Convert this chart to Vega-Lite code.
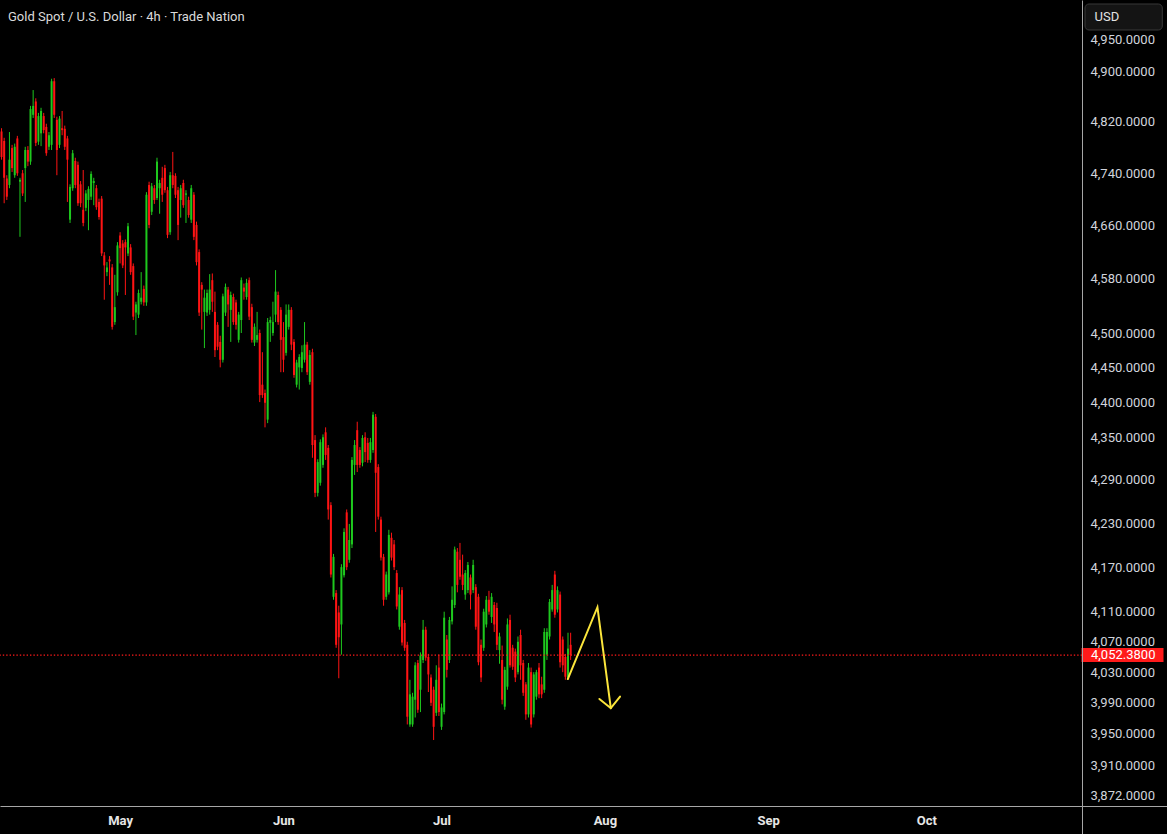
{
"$schema":"https://vega.github.io/schema/vega-lite/v6.json",
"width":1082,"height":806,
"autosize":{"type":"none"},
"padding":{"left":0,"top":0,"right":85,"bottom":28},
"background":"#000000",
"config":{"view":{"stroke":null}},
"title":{"text":"Gold Spot / U.S. Dollar · 4h · Trade Nation","anchor":"start","frame":"group","orient":"top","offset":-16,"baseline":"middle","dx":8,"dy":14,"font":"Roboto","fontSize":13,"fontWeight":"normal","color":"#dadada"},
"datasets":{
"candles":[
{"t":"2026-04-08T12:00","o":4805,"h":4810,"l":4761,"c":4765},
{"t":"2026-04-09T00:00","o":4790,"h":4795,"l":4694,"c":4733},
{"t":"2026-04-09T12:00","o":4732,"h":4737,"l":4699,"c":4704},
{"t":"2026-04-10T00:00","o":4722,"h":4804,"l":4717,"c":4761},
{"t":"2026-04-10T12:00","o":4779,"h":4784,"l":4742,"c":4748},
{"t":"2026-04-11T00:00","o":4737,"h":4786,"l":4733,"c":4781},
{"t":"2026-04-11T12:00","o":4794,"h":4798,"l":4736,"c":4740},
{"t":"2026-04-12T00:00","o":4727,"h":4733,"l":4643,"c":4730},
{"t":"2026-04-12T12:00","o":4740,"h":4745,"l":4705,"c":4709},
{"t":"2026-04-13T00:00","o":4748,"h":4781,"l":4696,"c":4776},
{"t":"2026-04-13T12:00","o":4776,"h":4782,"l":4751,"c":4758},
{"t":"2026-04-14T00:00","o":4758,"h":4845,"l":4753,"c":4840},
{"t":"2026-04-14T12:00","o":4831,"h":4870,"l":4826,"c":4845},
{"t":"2026-04-15T00:00","o":4852,"h":4857,"l":4782,"c":4787},
{"t":"2026-04-15T12:00","o":4789,"h":4834,"l":4784,"c":4829},
{"t":"2026-04-16T00:00","o":4802,"h":4842,"l":4782,"c":4837},
{"t":"2026-04-16T12:00","o":4829,"h":4834,"l":4802,"c":4807},
{"t":"2026-04-17T00:00","o":4812,"h":4817,"l":4767,"c":4771},
{"t":"2026-04-17T12:00","o":4781,"h":4804,"l":4776,"c":4799},
{"t":"2026-04-18T00:00","o":4784,"h":4888,"l":4776,"c":4884},
{"t":"2026-04-18T12:00","o":4884,"h":4889,"l":4826,"c":4831},
{"t":"2026-04-19T00:00","o":4823,"h":4828,"l":4737,"c":4776},
{"t":"2026-04-19T12:00","o":4784,"h":4829,"l":4779,"c":4825},
{"t":"2026-04-20T00:00","o":4810,"h":4837,"l":4799,"c":4807},
{"t":"2026-04-20T12:00","o":4809,"h":4814,"l":4776,"c":4781},
{"t":"2026-04-21T00:00","o":4794,"h":4798,"l":4696,"c":4761},
{"t":"2026-04-21T12:00","o":4669,"h":4723,"l":4664,"c":4719},
{"t":"2026-04-22T00:00","o":4717,"h":4776,"l":4713,"c":4771},
{"t":"2026-04-22T12:00","o":4759,"h":4764,"l":4717,"c":4722},
{"t":"2026-04-23T00:00","o":4753,"h":4758,"l":4690,"c":4694},
{"t":"2026-04-23T12:00","o":4723,"h":4728,"l":4688,"c":4694},
{"t":"2026-04-24T00:00","o":4684,"h":4745,"l":4659,"c":4664},
{"t":"2026-04-24T12:00","o":4687,"h":4714,"l":4682,"c":4709},
{"t":"2026-04-25T00:00","o":4699,"h":4720,"l":4653,"c":4716},
{"t":"2026-04-25T12:00","o":4704,"h":4743,"l":4699,"c":4739},
{"t":"2026-04-26T00:00","o":4725,"h":4733,"l":4691,"c":4728},
{"t":"2026-04-26T12:00","o":4717,"h":4722,"l":4684,"c":4688},
{"t":"2026-04-27T00:00","o":4696,"h":4701,"l":4669,"c":4673},
{"t":"2026-04-27T12:00","o":4701,"h":4705,"l":4614,"c":4618},
{"t":"2026-04-28T00:00","o":4615,"h":4620,"l":4549,"c":4600},
{"t":"2026-04-28T12:00","o":4590,"h":4605,"l":4584,"c":4597},
{"t":"2026-04-29T00:00","o":4609,"h":4614,"l":4571,"c":4606},
{"t":"2026-04-29T12:00","o":4597,"h":4602,"l":4505,"c":4509},
{"t":"2026-04-30T00:00","o":4516,"h":4586,"l":4512,"c":4538},
{"t":"2026-04-30T12:00","o":4560,"h":4635,"l":4555,"c":4630},
{"t":"2026-05-01T00:00","o":4645,"h":4650,"l":4603,"c":4626},
{"t":"2026-05-01T12:00","o":4633,"h":4638,"l":4596,"c":4600},
{"t":"2026-05-02T00:00","o":4635,"h":4639,"l":4556,"c":4627},
{"t":"2026-05-02T12:00","o":4618,"h":4664,"l":4614,"c":4659},
{"t":"2026-05-03T00:00","o":4627,"h":4632,"l":4586,"c":4590},
{"t":"2026-05-03T12:00","o":4599,"h":4603,"l":4519,"c":4524},
{"t":"2026-05-04T00:00","o":4530,"h":4546,"l":4497,"c":4542},
{"t":"2026-05-04T12:00","o":4527,"h":4564,"l":4522,"c":4559},
{"t":"2026-05-05T00:00","o":4546,"h":4590,"l":4542,"c":4552},
{"t":"2026-05-05T12:00","o":4565,"h":4570,"l":4540,"c":4545},
{"t":"2026-05-06T00:00","o":4545,"h":4711,"l":4540,"c":4707},
{"t":"2026-05-06T12:00","o":4722,"h":4727,"l":4656,"c":4661},
{"t":"2026-05-07T00:00","o":4681,"h":4725,"l":4676,"c":4720},
{"t":"2026-05-07T12:00","o":4717,"h":4722,"l":4693,"c":4699},
{"t":"2026-05-08T00:00","o":4702,"h":4764,"l":4699,"c":4758},
{"t":"2026-05-08T12:00","o":4717,"h":4730,"l":4678,"c":4725},
{"t":"2026-05-09T00:00","o":4733,"h":4750,"l":4696,"c":4707},
{"t":"2026-05-09T12:00","o":4748,"h":4753,"l":4710,"c":4714},
{"t":"2026-05-10T00:00","o":4714,"h":4719,"l":4641,"c":4646},
{"t":"2026-05-10T12:00","o":4650,"h":4742,"l":4646,"c":4737},
{"t":"2026-05-11T00:00","o":4737,"h":4773,"l":4717,"c":4722},
{"t":"2026-05-11T12:00","o":4736,"h":4740,"l":4702,"c":4707},
{"t":"2026-05-12T00:00","o":4714,"h":4719,"l":4638,"c":4661},
{"t":"2026-05-12T12:00","o":4699,"h":4722,"l":4672,"c":4717},
{"t":"2026-05-13T00:00","o":4725,"h":4730,"l":4687,"c":4691},
{"t":"2026-05-13T12:00","o":4707,"h":4714,"l":4664,"c":4709},
{"t":"2026-05-14T00:00","o":4699,"h":4704,"l":4672,"c":4676},
{"t":"2026-05-14T12:00","o":4669,"h":4722,"l":4664,"c":4717},
{"t":"2026-05-15T00:00","o":4707,"h":4711,"l":4638,"c":4643},
{"t":"2026-05-15T12:00","o":4661,"h":4666,"l":4600,"c":4605},
{"t":"2026-05-16T00:00","o":4620,"h":4624,"l":4525,"c":4530},
{"t":"2026-05-16T12:00","o":4571,"h":4575,"l":4505,"c":4564},
{"t":"2026-05-17T00:00","o":4531,"h":4564,"l":4478,"c":4552},
{"t":"2026-05-17T12:00","o":4530,"h":4564,"l":4525,"c":4559},
{"t":"2026-05-18T00:00","o":4534,"h":4587,"l":4527,"c":4564},
{"t":"2026-05-18T12:00","o":4578,"h":4588,"l":4531,"c":4546},
{"t":"2026-05-19T00:00","o":4531,"h":4561,"l":4465,"c":4475},
{"t":"2026-05-19T12:00","o":4512,"h":4516,"l":4475,"c":4480},
{"t":"2026-05-20T00:00","o":4487,"h":4496,"l":4450,"c":4461},
{"t":"2026-05-20T12:00","o":4461,"h":4558,"l":4457,"c":4554},
{"t":"2026-05-21T00:00","o":4530,"h":4573,"l":4525,"c":4568},
{"t":"2026-05-21T12:00","o":4564,"h":4568,"l":4509,"c":4542},
{"t":"2026-05-22T00:00","o":4534,"h":4561,"l":4487,"c":4556},
{"t":"2026-05-22T12:00","o":4553,"h":4558,"l":4512,"c":4516},
{"t":"2026-05-23T00:00","o":4545,"h":4549,"l":4505,"c":4512},
{"t":"2026-05-23T12:00","o":4490,"h":4531,"l":4486,"c":4527},
{"t":"2026-05-24T00:00","o":4519,"h":4582,"l":4500,"c":4578},
{"t":"2026-05-24T12:00","o":4567,"h":4573,"l":4549,"c":4561},
{"t":"2026-05-25T00:00","o":4553,"h":4580,"l":4549,"c":4574},
{"t":"2026-05-25T12:00","o":4578,"h":4582,"l":4519,"c":4524},
{"t":"2026-05-26T00:00","o":4538,"h":4543,"l":4486,"c":4490},
{"t":"2026-05-26T12:00","o":4486,"h":4514,"l":4481,"c":4509},
{"t":"2026-05-27T00:00","o":4490,"h":4531,"l":4486,"c":4497},
{"t":"2026-05-27T12:00","o":4500,"h":4505,"l":4400,"c":4410},
{"t":"2026-05-28T00:00","o":4425,"h":4472,"l":4406,"c":4410},
{"t":"2026-05-28T12:00","o":4413,"h":4418,"l":4364,"c":4399},
{"t":"2026-05-29T00:00","o":4375,"h":4522,"l":4370,"c":4516},
{"t":"2026-05-29T12:00","o":4515,"h":4524,"l":4487,"c":4519},
{"t":"2026-05-30T00:00","o":4500,"h":4546,"l":4496,"c":4516},
{"t":"2026-05-30T12:00","o":4527,"h":4593,"l":4516,"c":4561},
{"t":"2026-05-31T00:00","o":4556,"h":4561,"l":4512,"c":4516},
{"t":"2026-05-31T12:00","o":4534,"h":4538,"l":4443,"c":4490},
{"t":"2026-06-01T00:00","o":4494,"h":4516,"l":4443,"c":4461},
{"t":"2026-06-01T12:00","o":4471,"h":4542,"l":4467,"c":4527},
{"t":"2026-06-02T00:00","o":4509,"h":4542,"l":4505,"c":4534},
{"t":"2026-06-02T12:00","o":4534,"h":4538,"l":4475,"c":4483},
{"t":"2026-06-03T00:00","o":4487,"h":4491,"l":4435,"c":4439},
{"t":"2026-06-03T12:00","o":4425,"h":4461,"l":4421,"c":4457},
{"t":"2026-06-04T00:00","o":4450,"h":4469,"l":4418,"c":4465},
{"t":"2026-06-04T12:00","o":4449,"h":4482,"l":4443,"c":4472},
{"t":"2026-06-05T00:00","o":4461,"h":4516,"l":4457,"c":4483},
{"t":"2026-06-05T12:00","o":4483,"h":4487,"l":4439,"c":4443},
{"t":"2026-06-06T00:00","o":4429,"h":4475,"l":4425,"c":4468},
{"t":"2026-06-06T12:00","o":4472,"h":4477,"l":4321,"c":4339},
{"t":"2026-06-07T00:00","o":4346,"h":4353,"l":4266,"c":4272},
{"t":"2026-06-07T12:00","o":4272,"h":4319,"l":4267,"c":4315},
{"t":"2026-06-08T00:00","o":4286,"h":4347,"l":4282,"c":4343},
{"t":"2026-06-08T12:00","o":4311,"h":4354,"l":4307,"c":4350},
{"t":"2026-06-09T00:00","o":4357,"h":4364,"l":4318,"c":4325},
{"t":"2026-06-09T12:00","o":4335,"h":4339,"l":4235,"c":4249},
{"t":"2026-06-10T00:00","o":4255,"h":4259,"l":4156,"c":4160},
{"t":"2026-06-10T12:00","o":4130,"h":4188,"l":4126,"c":4184},
{"t":"2026-06-11T00:00","o":4135,"h":4139,"l":4062,"c":4066},
{"t":"2026-06-11T12:00","o":4109,"h":4118,"l":4022,"c":4076},
{"t":"2026-06-12T00:00","o":4093,"h":4174,"l":4053,"c":4170},
{"t":"2026-06-12T12:00","o":4159,"h":4223,"l":4156,"c":4218},
{"t":"2026-06-13T00:00","o":4245,"h":4249,"l":4166,"c":4170},
{"t":"2026-06-13T12:00","o":4180,"h":4229,"l":4176,"c":4207},
{"t":"2026-06-14T00:00","o":4201,"h":4322,"l":4196,"c":4318},
{"t":"2026-06-14T12:00","o":4311,"h":4346,"l":4297,"c":4339},
{"t":"2026-06-15T00:00","o":4360,"h":4372,"l":4301,"c":4311},
{"t":"2026-06-15T12:00","o":4332,"h":4336,"l":4307,"c":4311},
{"t":"2026-06-16T00:00","o":4314,"h":4353,"l":4309,"c":4349},
{"t":"2026-06-16T12:00","o":4350,"h":4357,"l":4315,"c":4329},
{"t":"2026-06-17T00:00","o":4342,"h":4349,"l":4314,"c":4318},
{"t":"2026-06-17T12:00","o":4318,"h":4349,"l":4314,"c":4343},
{"t":"2026-06-18T00:00","o":4332,"h":4386,"l":4328,"c":4382},
{"t":"2026-06-18T12:00","o":4379,"h":4383,"l":4218,"c":4300},
{"t":"2026-06-19T00:00","o":4308,"h":4312,"l":4235,"c":4239},
{"t":"2026-06-19T12:00","o":4235,"h":4239,"l":4179,"c":4183},
{"t":"2026-06-20T00:00","o":4184,"h":4188,"l":4118,"c":4126},
{"t":"2026-06-20T12:00","o":4130,"h":4164,"l":4126,"c":4160},
{"t":"2026-06-21T00:00","o":4136,"h":4221,"l":4133,"c":4214},
{"t":"2026-06-21T12:00","o":4210,"h":4217,"l":4179,"c":4183},
{"t":"2026-06-22T00:00","o":4201,"h":4207,"l":4166,"c":4170},
{"t":"2026-06-22T12:00","o":4162,"h":4166,"l":4113,"c":4117},
{"t":"2026-06-23T00:00","o":4090,"h":4143,"l":4086,"c":4133},
{"t":"2026-06-23T12:00","o":4139,"h":4143,"l":4065,"c":4069},
{"t":"2026-06-24T00:00","o":4095,"h":4099,"l":4058,"c":4062},
{"t":"2026-06-24T12:00","o":4066,"h":4070,"l":3962,"c":3972},
{"t":"2026-06-25T00:00","o":3962,"h":4020,"l":3959,"c":4001},
{"t":"2026-06-25T12:00","o":3962,"h":4003,"l":3959,"c":3998},
{"t":"2026-06-26T00:00","o":3994,"h":4043,"l":3971,"c":4039},
{"t":"2026-06-26T12:00","o":4042,"h":4046,"l":3977,"c":3981},
{"t":"2026-06-27T00:00","o":4007,"h":4056,"l":3978,"c":4052},
{"t":"2026-06-27T12:00","o":4046,"h":4099,"l":4042,"c":4086},
{"t":"2026-06-28T00:00","o":4086,"h":4090,"l":4045,"c":4049},
{"t":"2026-06-28T12:00","o":4050,"h":4054,"l":4004,"c":4027},
{"t":"2026-06-29T00:00","o":4023,"h":4027,"l":3986,"c":3990},
{"t":"2026-06-29T12:00","o":4007,"h":4011,"l":3942,"c":3959},
{"t":"2026-06-30T00:00","o":3977,"h":4039,"l":3973,"c":4020},
{"t":"2026-06-30T12:00","o":4036,"h":4053,"l":3973,"c":3978},
{"t":"2026-07-01T00:00","o":3959,"h":3989,"l":3955,"c":3984},
{"t":"2026-07-01T12:00","o":3978,"h":4110,"l":3975,"c":4102},
{"t":"2026-07-02T00:00","o":4073,"h":4079,"l":4023,"c":4033},
{"t":"2026-07-02T12:00","o":4046,"h":4103,"l":4042,"c":4099},
{"t":"2026-07-03T00:00","o":4097,"h":4144,"l":4093,"c":4126},
{"t":"2026-07-03T12:00","o":4119,"h":4198,"l":4115,"c":4194},
{"t":"2026-07-04T00:00","o":4191,"h":4196,"l":4136,"c":4146},
{"t":"2026-07-04T12:00","o":4180,"h":4203,"l":4153,"c":4157},
{"t":"2026-07-05T00:00","o":4160,"h":4187,"l":4139,"c":4146},
{"t":"2026-07-05T12:00","o":4133,"h":4166,"l":4126,"c":4162},
{"t":"2026-07-06T00:00","o":4139,"h":4177,"l":4135,"c":4173},
{"t":"2026-07-06T12:00","o":4156,"h":4160,"l":4113,"c":4133},
{"t":"2026-07-07T00:00","o":4139,"h":4180,"l":4135,"c":4173},
{"t":"2026-07-07T12:00","o":4143,"h":4147,"l":4086,"c":4090},
{"t":"2026-07-08T00:00","o":4130,"h":4134,"l":4039,"c":4043},
{"t":"2026-07-08T12:00","o":4066,"h":4073,"l":4017,"c":4023},
{"t":"2026-07-09T00:00","o":4062,"h":4114,"l":4058,"c":4110},
{"t":"2026-07-09T12:00","o":4093,"h":4131,"l":4089,"c":4126},
{"t":"2026-07-10T00:00","o":4126,"h":4138,"l":4106,"c":4110},
{"t":"2026-07-10T12:00","o":4103,"h":4135,"l":4095,"c":4130},
{"t":"2026-07-11T00:00","o":4119,"h":4123,"l":4083,"c":4093},
{"t":"2026-07-11T12:00","o":4115,"h":4122,"l":4059,"c":4066},
{"t":"2026-07-12T00:00","o":4059,"h":4082,"l":4041,"c":4077},
{"t":"2026-07-12T12:00","o":4046,"h":4065,"l":3988,"c":3994},
{"t":"2026-07-13T00:00","o":3985,"h":4037,"l":3981,"c":4033},
{"t":"2026-07-13T12:00","o":4011,"h":4101,"l":4007,"c":4093},
{"t":"2026-07-14T00:00","o":4099,"h":4106,"l":4036,"c":4039},
{"t":"2026-07-14T12:00","o":4062,"h":4066,"l":4033,"c":4037},
{"t":"2026-07-15T00:00","o":4057,"h":4061,"l":4017,"c":4023},
{"t":"2026-07-15T12:00","o":4030,"h":4077,"l":4027,"c":4070},
{"t":"2026-07-16T00:00","o":4079,"h":4086,"l":4020,"c":4039},
{"t":"2026-07-16T12:00","o":4042,"h":4046,"l":3999,"c":4003},
{"t":"2026-07-17T00:00","o":4014,"h":4017,"l":3968,"c":3975},
{"t":"2026-07-17T12:00","o":3975,"h":4042,"l":3971,"c":4036},
{"t":"2026-07-18T00:00","o":4030,"h":4036,"l":3958,"c":3962},
{"t":"2026-07-18T12:00","o":3975,"h":4030,"l":3971,"c":4027},
{"t":"2026-07-19T00:00","o":3998,"h":4033,"l":3994,"c":4030},
{"t":"2026-07-19T12:00","o":4036,"h":4042,"l":3996,"c":4001},
{"t":"2026-07-20T00:00","o":4014,"h":4024,"l":3996,"c":4001},
{"t":"2026-07-20T12:00","o":4007,"h":4088,"l":4003,"c":4083},
{"t":"2026-07-21T00:00","o":4053,"h":4088,"l":4046,"c":4083},
{"t":"2026-07-21T12:00","o":4077,"h":4127,"l":4073,"c":4123},
{"t":"2026-07-22T00:00","o":4113,"h":4146,"l":4110,"c":4139},
{"t":"2026-07-22T12:00","o":4160,"h":4165,"l":4102,"c":4106},
{"t":"2026-07-23T00:00","o":4113,"h":4144,"l":4109,"c":4139},
{"t":"2026-07-23T12:00","o":4133,"h":4137,"l":4036,"c":4043},
{"t":"2026-07-24T00:00","o":4073,"h":4077,"l":4030,"c":4039},
{"t":"2026-07-24T12:00","o":4050,"h":4054,"l":4020,"c":4024},
{"t":"2026-07-25T00:00","o":4023,"h":4082,"l":4020,"c":4061},
{"t":"2026-07-25T12:00","o":4066,"h":4082,"l":4046,"c":4052.38}
],
"arrow":[
{"t":"2026-07-24T23:00","p":4021,"seg":"a","ord":1},
{"t":"2026-07-30T14:00","p":4116,"seg":"a","ord":2},
{"t":"2026-08-02T03:00","p":3983,"seg":"a","ord":3},
{"t":"2026-07-30T23:00","p":3995,"seg":"b","ord":1},
{"t":"2026-08-02T03:00","p":3983,"seg":"b","ord":2},
{"t":"2026-08-03T21:00","p":3998,"seg":"b","ord":3}
],
"last":[{"p":4052.38}]
},
"layer":[
{"data":{"name":"candles"},
 "mark":{"type":"rule","strokeWidth":1},
 "encoding":{
  "x":{"field":"t","type":"temporal",
   "scale":{"type":"time","nice":false,"padding":0,"domain":[{"year":2026,"month":4,"date":8,"hours":5},{"year":2026,"month":10,"date":30,"hours":13}]},
   "axis":{"title":null,"format":"%b",
    "values":[{"year":2026,"month":5,"date":1},{"year":2026,"month":6,"date":1},{"year":2026,"month":7,"date":1},{"year":2026,"month":8,"date":1},{"year":2026,"month":9,"date":1},{"year":2026,"month":10,"date":1},{"year":2026,"month":10,"date":30,"hours":13}],
    "labelExpr":"datum.value > datetime(2026,9,15) ? '' : datum.label",
    "labelAlign":"center","labelFlush":false,"labelOverlap":false,"labelBound":false,
    "labelColor":"#e6e6e6","labelFont":"Roboto","labelFontSize":13,"labelFontWeight":"bold",
    "labelPadding":-20,"labelBaseline":"top",
    "domainColor":"#a6a6a6","domainWidth":1,
    "ticks":true,"tickSize":28,"tickColor":"#a6a6a6","tickWidth":1,
    "tickOpacity":{"condition":{"test":"datum.value > datetime(2026,9,15)","value":1},"value":0},
    "grid":false}},
  "y":{"field":"l","type":"quantitative",
   "scale":{"type":"log","domain":[3858.3,5014.8],"nice":false,"padding":0},
   "axis":{"orient":"right","zindex":1,"title":"USD","titleAngle":0,"titleAlign":"left","titleBaseline":"middle","titleX":12,"titleY":16,"titleColor":"#e3e3e3","titleFont":"Roboto","titleFontSize":13,"titleFontWeight":"normal",
    "values":[4950,4900,4820,4740,4660,4580,4500,4450,4400,4350,4290,4230,4170,4110,4070,4030,3990,3950,3910,3872,3858.3],
    "format":",.4f",
    "labelExpr":"datum.value < 3860 ? '' : datum.label",
    "labelColor":"#d1d4dc","labelFont":"Roboto","labelFontSize":13,"labelAlign":"left","labelBaseline":"middle",
    "labelPadding":-77,"labelOverlap":false,"labelBound":false,"labelFlush":false,
    "domainColor":"#a6a6a6","domainWidth":1,
    "ticks":true,"tickSize":85,"tickColor":"#a6a6a6","tickWidth":1,
    "tickOpacity":{"condition":{"test":"datum.value < 3860","value":1},"value":0},
    "grid":false}},
  "y2":{"field":"h"},
  "color":{"condition":{"test":"datum.c >= datum.o","value":"#1ec81e"},"value":"#ff1414"}
 }},
{"data":{"name":"candles"},
 "mark":{"type":"bar","size":2},
 "encoding":{
  "x":{"field":"t","type":"temporal"},
  "y":{"field":"o","type":"quantitative"},
  "y2":{"field":"c"},
  "color":{"condition":{"test":"datum.c >= datum.o","value":"#1ec81e"},"value":"#ff1414"}
 }},
{"data":{"name":"last"},
 "mark":{"type":"rule","color":"#ff1a1a","strokeDash":[1.4,2],"strokeWidth":1.4},
 "encoding":{"y":{"field":"p","type":"quantitative"}}},
{"data":{"name":"arrow"},
 "mark":{"type":"line","color":"#fbe53b","strokeWidth":2,"strokeJoin":"miter","strokeCap":"round"},
 "encoding":{
  "x":{"field":"t","type":"temporal"},
  "y":{"field":"p","type":"quantitative"},
  "detail":{"field":"seg"},
  "order":{"field":"ord","type":"quantitative"}
 }},
{"data":{"name":"last"},
 "mark":{"type":"rect","fill":"#141414","stroke":"#383838","strokeWidth":1,"cornerRadius":4},
 "encoding":{
  "x":{"datum":{"year":2026,"month":10,"date":31,"hours":2,"minutes":40},"type":"temporal"},
  "x2":{"datum":{"year":2026,"month":11,"date":14,"hours":18,"minutes":45}},
  "y":{"datum":5008.3,"type":"quantitative"},
  "y2":{"datum":4966.1}
 }},
{"data":{"name":"last"},
 "mark":{"type":"tick","orient":"horizontal","size":82,"thickness":14,"color":"#ff1a1a","opacity":1},
 "encoding":{
  "x":{"datum":{"year":2026,"month":11,"date":7,"hours":5,"minutes":30},"type":"temporal"},
  "y":{"field":"p","type":"quantitative"}
 }},
{"data":{"name":"last"},
 "mark":{"type":"text","align":"left","baseline":"middle","dx":9,"color":"#ffffff","font":"Roboto","fontSize":13},
 "encoding":{
  "x":{"datum":{"year":2026,"month":10,"date":30,"hours":13},"type":"temporal"},
  "y":{"field":"p","type":"quantitative"},
  "text":{"field":"p","type":"quantitative","format":",.4f"}
 }}
]
}
